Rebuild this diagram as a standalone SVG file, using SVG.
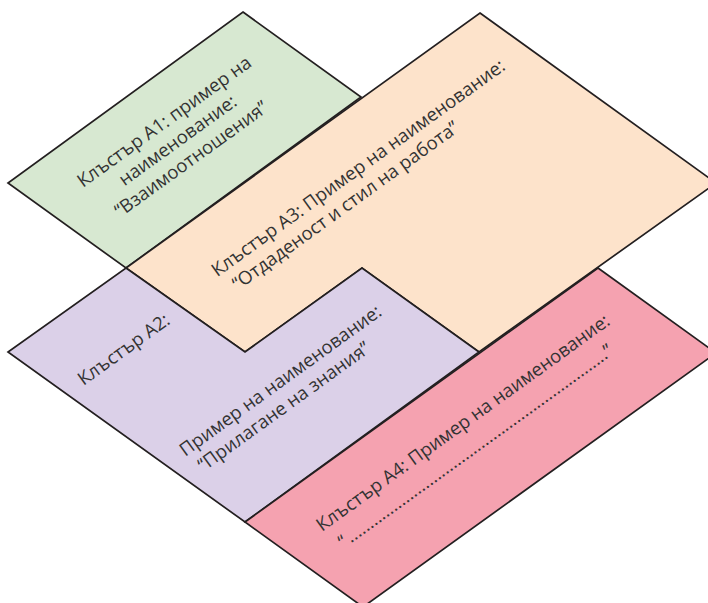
<svg xmlns="http://www.w3.org/2000/svg" width="708" height="603" viewBox="0 0 708 603">
<style>
.tile{stroke:#231f20;stroke-width:1.7;stroke-linejoin:miter}
.lbl{font-family:"Open Sans","Noto Sans","DejaVu Sans",sans-serif;font-size:18.5px;fill:#333333}
</style>
<rect width="708" height="603" fill="#ffffff"/>
<g id="connectors"/>
<g id="A1">
<polygon class="tile" fill="#d7e8d1" points="243,12 361,97 126,268 8,183"/>
<g transform="rotate(-35.8)" class="lbl" text-anchor="middle">
<text x="62" y="201">Клъстър А1: пример на</text>
<text x="62" y="224">наименование:</text>
<text x="62" y="247">“Взаимоотношения”</text>
</g>
</g>
<g id="A3">
<polygon class="tile" fill="#fde3cb" points="480,13 716,183 479,352 362,268 245,352 126,268"/>
<g transform="rotate(-35.8)" class="lbl">
<text x="14" y="352">Клъстър А3: Пример на наименование:</text>
<text x="23" y="375">“Отдаденост и стил на работа”</text>
</g>
</g>
<g id="A2">
<polygon class="tile" fill="#dbd0e8" points="126,268 245,352 362,268 479,352 245,522 8,352"/>
<g transform="rotate(-35.8)" class="lbl">
<text x="-158" y="362">Клъстър А2:</text>
<text x="-117" y="479">Пример на наименование:</text>
<text x="-111" y="502">“Прилагане на знания”</text>
</g>
</g>
<g id="A4">
<polygon class="tile" fill="#f5a2b0" points="598,268 716,353 363,607 245,522"/>
<g transform="rotate(-35.8)" class="lbl">
<text x="-50" y="620">Клъстър А4: Пример на наименование:</text>
<text x="-42" y="646">“<tspan x="-33" textLength="318" lengthAdjust="spacing">.................................................................</tspan>”</text>
</g>
</g>
</svg>
